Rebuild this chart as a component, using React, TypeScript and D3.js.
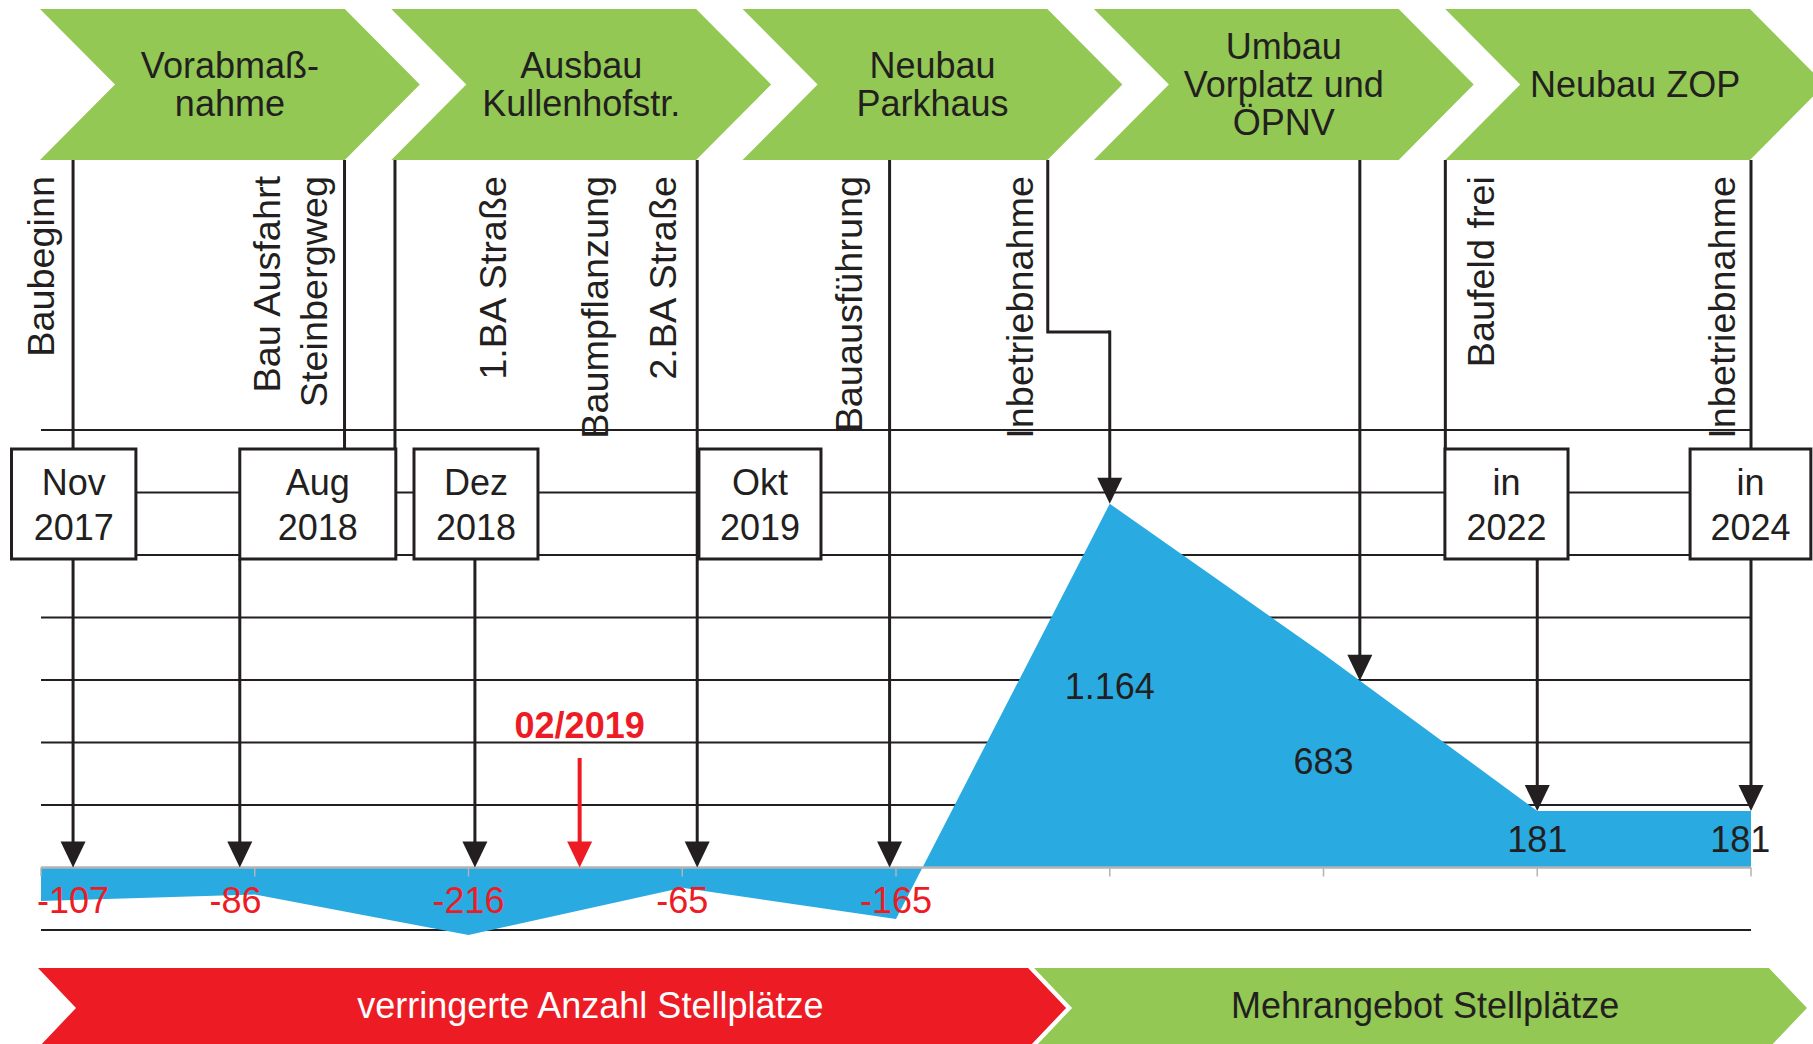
import React from "react";
import * as d3 from "d3";

// Stellplatz-Bilanz je Bauabschnitt (Kategorien ohne Beschriftung)
const slots = [0, 1, 2, 3, 4, 5, 6, 7, 8];
const parkingDelta = [-107, -86, -216, -65, -165, 1164, 683, 181, 181];
const labelAt = [0.15, 0.91, 2, 3, 4, 5, 6, 7, 7.95];
const gridValues = [-200, 200, 400, 600, 800, 1000, 1200, 1400];

const phases = [
  ["Vorabmaß-", "nahme"],
  ["Ausbau", "Kullenhofstr."],
  ["Neubau", "Parkhaus"],
  ["Umbau", "Vorplatz und", "ÖPNV"],
  ["Neubau ZOP"],
];

// positions in slot units (same axis as the area chart)
const eventLabels = [
  { lines: ["Baubeginn"], at: 0.06 },
  { lines: ["Bau Ausfahrt", "Steinbergweg"], at: 1.12 },
  { lines: ["1.BA Straße"], at: 2.175 },
  { lines: ["Baumpflanzung"], at: 2.653 },
  { lines: ["2.BA Straße"], at: 2.971 },
  { lines: ["Bauausführung"], at: 3.841 },
  { lines: ["Inbetriebnahme"], at: 4.641 },
  { lines: ["Baufeld frei"], at: 6.798 },
  { lines: ["Inbetriebnahme"], at: 7.925 },
];

const dateBoxes = [
  { lines: ["Nov", "2017"], from: -0.138, to: 0.444 },
  { lines: ["Aug", "2018"], from: 0.93, to: 1.66 },
  { lines: ["Dez", "2018"], from: 1.745, to: 2.325 },
  { lines: ["Okt", "2019"], from: 3.078, to: 3.649 },
  { lines: ["in", "2022"], from: 6.568, to: 7.144 },
  { lines: ["in", "2024"], from: 7.715, to: 8.28 },
];

const headLines = [0.15, 1.42, 1.656, 6.57, 8]; // chevron -> date box
const boxArrows = [0.15, 0.93, 2.03, 7, 8]; // date box -> chart
const longArrows = [3.07, 3.97, 6.17]; // chevron -> chart
const elbow = { from: 4.71, to: 5 };
const note = { text: "02/2019", at: 2.52 };

const banners = [
  { text: "verringerte Anzahl Stellplätze", from: -0.014, to: 4.618, textAt: 2.57, kind: "minus" },
  { text: "Mehrangebot Stellplätze", from: 4.646, to: 8.084, textAt: 6.475, kind: "plus" },
];

const W = 1813;
const H = 1044;
const FONT = "'Liberation Sans', Arial, Helvetica, sans-serif";
const INK = "#231f20";
const GREEN = "#92c853";
const RED = "#ed1c24";
const BLUE = "#29abe2";

const x = d3.scaleLinear().domain([0, 8]).range([41, 1751]);
const y = d3.scaleLinear().domain([-200, 1400]).range([930, 430]);
const valueAt = d3.scaleLinear().domain(slots).range(parkingDelta);

const de = d3.formatLocale({ decimal: ",", thousands: ".", grouping: [3], currency: ["", " €"], minus: "-" });
const fmt = de.format(",d");

const CHEV_TOP = 9, CHEV_BOT = 160, CHEV_TIP = 75, CHEV_GAP = 46.5;
const BOX_TOP = 449, BOX_BOT = 559;
const LABEL_TOP = 176;
const ELBOW_Y = 332;
const BAN_TOP = 968, BAN_BOT = 1048, BAN_NOTCH = 38;

const Arrow = ({ at, y1, y2, color = INK, width = 3 }) => {
  const px = x(at);
  return (
    <g>
      <line x1={px} x2={px} y1={y1} y2={y2 - 20} stroke={color} strokeWidth={width} />
      <polygon points={`${px - 12.5},${y2 - 26} ${px + 12.5},${y2 - 26} ${px},${y2}`} fill={color} />
    </g>
  );
};

export default function App() {
  const zeroY = y(0);
  const tipY = (at) => y(Math.max(0, valueAt(at)));

  const area = d3.area()
    .x((d, i) => x(slots[i]))
    .y0(zeroY)
    .y1((d) => y(d))
    .curve(d3.curveLinear);

  const span = x(8) - x(0);
  const chevW = (span - 4 * CHEV_GAP) / 5;
  const chevMid = (CHEV_TOP + CHEV_BOT) / 2;

  const chevron = (L) =>
    `${L},${CHEV_TOP} ${L + chevW},${CHEV_TOP} ${L + chevW + CHEV_TIP},${chevMid} ${L + chevW},${CHEV_BOT} ${L},${CHEV_BOT} ${L + CHEV_TIP},${chevMid}`;

  const banMid = (BAN_TOP + BAN_BOT) / 2;
  const banner = (a, b) =>
    `${a},${BAN_TOP} ${b},${BAN_TOP} ${b + BAN_NOTCH},${banMid} ${b},${BAN_BOT} ${a},${BAN_BOT} ${a + BAN_NOTCH},${banMid}`;

  return (
    <svg width={W} height={H} style={{ position: "absolute", left: 0, top: 0, background: "#fff" }} fontFamily={FONT}>
      {/* phase chevrons */}
      {phases.map((lines, i) => {
        const L = x(0) - 1 + i * (chevW + CHEV_GAP);
        const cx = L + (CHEV_TIP + chevW) / 2;
        return (
          <g key={"ph" + i}>
            <polygon points={chevron(L)} fill={GREEN} />
            {lines.map((t, j) => (
              <text key={j} x={cx} y={chevMid - 1 + (j - (lines.length - 1) / 2) * 38 + 13}
                textAnchor="middle" fontSize={36} fill={INK}>{t}</text>
            ))}
          </g>
        );
      })}

      {/* grid */}
      {gridValues.map((v) => (
        <line key={"g" + v} x1={x(0)} x2={x(8)} y1={y(v)} y2={y(v)} stroke={INK} strokeWidth={2} />
      ))}

      {/* area */}
      <path d={area(parkingDelta)} fill={BLUE} />

      {/* axis */}
      <line x1={x(0)} x2={x(8)} y1={zeroY} y2={zeroY} stroke="#b3b3b3" strokeWidth={2.5} />
      {slots.map((s) => (
        <line key={"t" + s} x1={x(s)} x2={x(s)} y1={zeroY} y2={zeroY + 9} stroke="#b3b3b3" strokeWidth={1.5} />
      ))}

      {/* connectors */}
      {headLines.map((at) => (
        <line key={"h" + at} x1={x(at)} x2={x(at)} y1={CHEV_BOT} y2={BOX_TOP} stroke={INK} strokeWidth={3} />
      ))}
      {boxArrows.map((at) => (
        <Arrow key={"b" + at} at={at} y1={BOX_BOT} y2={tipY(at)} />
      ))}
      {longArrows.map((at) => (
        <Arrow key={"l" + at} at={at} y1={CHEV_BOT} y2={tipY(at)} />
      ))}
      <polyline
        points={`${x(elbow.from)},${CHEV_BOT} ${x(elbow.from)},${ELBOW_Y} ${x(elbow.to)},${ELBOW_Y}`}
        fill="none" stroke={INK} strokeWidth={3} />
      <Arrow at={elbow.to} y1={ELBOW_Y - 1.5} y2={tipY(elbow.to)} />
      <Arrow at={note.at} y1={758} y2={zeroY} color={RED} width={4} />
      <text x={x(note.at)} y={738} textAnchor="middle" fontSize={36} fontWeight="bold" fill={RED}>{note.text}</text>

      {/* event labels */}
      {eventLabels.map((e, i) => (
        <g key={"e" + i}>
          {e.lines.map((t, j) => (
            <text key={j} transform={`translate(${x(e.at) + j * 47},${LABEL_TOP}) rotate(-90) scale(1.05,1)`}
              textAnchor="end" fontSize={36} fill={INK}>{t}</text>
          ))}
        </g>
      ))}

      {/* date boxes */}
      {dateBoxes.map((b, i) => {
        const x0 = x(b.from), x1 = x(b.to);
        const cy = (BOX_TOP + BOX_BOT) / 2;
        return (
          <g key={"d" + i}>
            <rect x={x0} y={BOX_TOP} width={x1 - x0} height={BOX_BOT - BOX_TOP} fill="#fff" stroke={INK} strokeWidth={3} />
            {b.lines.map((t, j) => (
              <text key={j} x={(x0 + x1) / 2} y={cy + (j - 0.5) * 45 + 13} textAnchor="middle" fontSize={36} fill={INK}>{t}</text>
            ))}
          </g>
        );
      })}

      {/* value labels */}
      {parkingDelta.map((v, i) => {
        const py = v < 0 ? zeroY + 45 : (y(v) + zeroY) / 2 + 13;
        return (
          <text key={"v" + i} x={x(labelAt[i])} y={py} textAnchor="middle" fontSize={36} fill={v < 0 ? RED : INK}>{fmt(v)}</text>
        );
      })}

      {/* bottom banners */}
      {banners.map((b, i) => (
        <g key={"bn" + i}>
          <polygon points={banner(x(b.from), x(b.to))} fill={b.kind === "minus" ? RED : GREEN} />
          <text x={x(b.textAt)} y={banMid + 10} textAnchor="middle" fontSize={36}
            fill={b.kind === "minus" ? "#fff" : INK}>{b.text}</text>
        </g>
      ))}
    </svg>
  );
}
